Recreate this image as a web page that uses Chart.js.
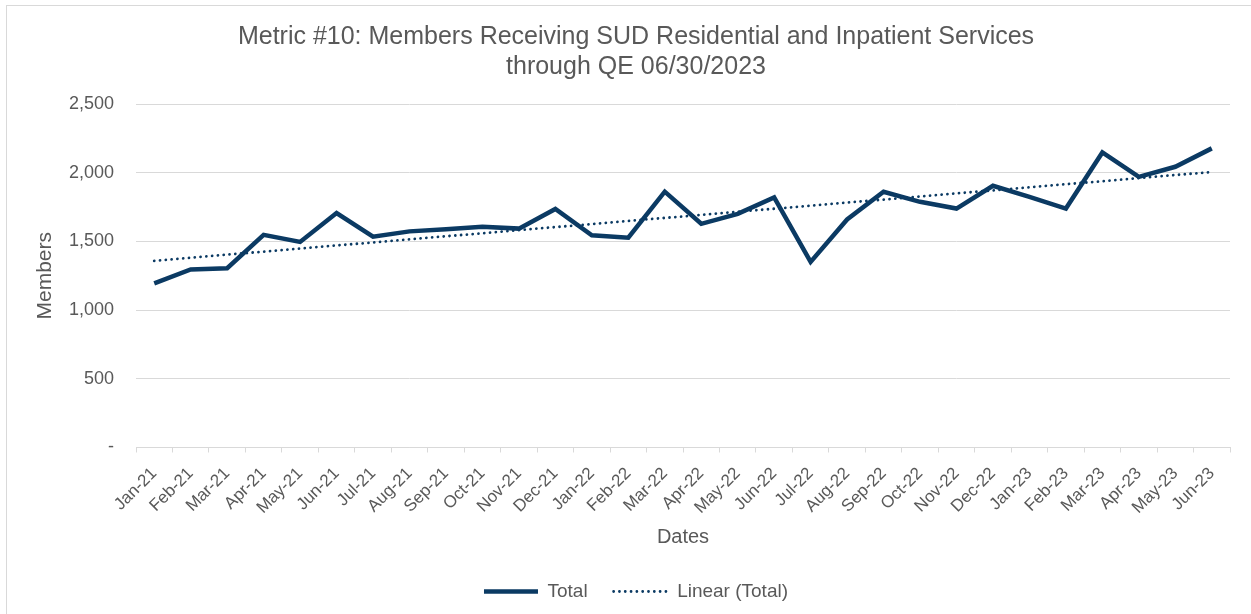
<!DOCTYPE html>
<html>
<head>
<meta charset="utf-8">
<script src="https://cdn.jsdelivr.net/npm/chart.js@4.4.0/dist/chart.umd.min.js"></script>
<style>
  html, body { margin: 0; padding: 0; background: #fff; overflow: hidden; }
  #frame { position: absolute; left: 6px; top: 5px; width: 1400px; height: 800px; border: 1px solid #d9d9d9; }
  #wrap { position: absolute; left: 0; top: 0; width: 1251px; height: 614px; }
</style>
</head>
<body>
<div id="frame"></div>
<div id="wrap"><canvas id="myChart" width="1251" height="614"></canvas></div>
<script>
// month labels along the x axis
var months = ['Jan-21', 'Feb-21', 'Mar-21', 'Apr-21', 'May-21', 'Jun-21', 'Jul-21', 'Aug-21', 'Sep-21', 'Oct-21',
    'Nov-21', 'Dec-21', 'Jan-22', 'Feb-22', 'Mar-22', 'Apr-22', 'May-22', 'Jun-22', 'Jul-22', 'Aug-22',
    'Sep-22', 'Oct-22', 'Nov-22', 'Dec-22', 'Jan-23', 'Feb-23', 'Mar-23', 'Apr-23', 'May-23', 'Jun-23'];

// members per month
var totalMembers = [1195, 1296, 1305, 1548, 1496, 1706, 1534, 1573, 1588, 1606,
    1593, 1736, 1544, 1527, 1862, 1628, 1700, 1820, 1351, 1660,
    1861, 1788, 1739, 1905, 1824, 1739, 2147, 1970, 2043, 2177];

var yTicks = [0, 500, 1000, 1500, 2000, 2500];

// least squares trend, like Excel's "Linear (Total)"
function linearTrend(vals) {
    var n = vals.length, sx = 0, sy = 0, sxy = 0, sxx = 0;
    for (var i = 0; i < n; i++) {
        sx += i; sy += vals[i]; sxy += i * vals[i]; sxx += i * i;
    }
    var slope = (n * sxy - sx * sy) / (n * sxx - sx * sx);
    var icpt = (sy - slope * sx) / n;
    return vals.map(function(v, i) { return icpt + slope * i; });
}
var trendMembers = linearTrend(totalMembers);

var textColor = '#595959';
var lineColor = '#0b3a63';
var font = '"Liberation Sans", Arial, sans-serif';

var ctx = document.getElementById('myChart').getContext('2d');

var chart = new Chart(ctx, {
    type: 'line',
    data: {
        labels: months,
        datasets: [{
            label: 'Total',
            data: totalMembers,
            borderColor: lineColor,
            backgroundColor: lineColor,
            borderWidth: 4.5,
            pointRadius: 0,
            tension: 0,
            borderJoinStyle: 'miter'
        }, {
            label: 'Linear (Total)',
            data: trendMembers,
            borderColor: lineColor,
            backgroundColor: lineColor,
            borderWidth: 2.8,
            borderDash: [0.01, 5.8],
            borderCapStyle: 'round',
            pointRadius: 0
        }]
    },
    options: {
        responsive: false,
        animation: false,
        // left padding keeps title and legend centred like the original
        layout: { padding: { left: 42, right: 21, top: 0, bottom: 3 } },
        plugins: {
            title: {
                display: true,
                text: ['Metric #10: Members Receiving SUD Residential and Inpatient Services', 'through QE 06/30/2023'],
                color: textColor,
                font: { family: font, size: 25, weight: 'normal', lineHeight: 1.2 },
                padding: { top: 22, bottom: 22 }
            },
            legend: {
                position: 'bottom',
                labels: {
                    color: textColor,
                    font: { family: font, size: 19 },
                    usePointStyle: true,
                    pointStyle: 'line',
                    pointStyleWidth: 54,
                    boxHeight: 4,
                    padding: 26,
                    generateLabels: function(c) {
                        // the default legend drops borderDash when usePointStyle is on
                        var items = Chart.defaults.plugins.legend.labels.generateLabels(c);
                        items.forEach(function(it) {
                            var ds = c.data.datasets[it.datasetIndex];
                            it.lineDash = ds.borderDash || [];
                            it.lineCap = ds.borderCapStyle || 'butt';
                            it.lineWidth = ds.borderWidth;
                        });
                        return items;
                    }
                }
            },
            tooltip: { enabled: false }
        },
        scales: {
            x: {
                offset: true,
                grid: {
                    offset: true,
                    drawOnChartArea: false,
                    drawTicks: true,
                    tickLength: 5,
                    color: '#d9d9d9'
                },
                border: { color: '#d9d9d9' },
                ticks: {
                    color: textColor,
                    font: { family: font, size: 17 },
                    minRotation: 45,
                    maxRotation: 45,
                    autoSkip: false,
                    padding: 11
                },
                title: {
                    display: true,
                    text: 'Dates',
                    color: textColor,
                    font: { family: font, size: 20, lineHeight: 1.2 },
                    padding: { top: -4, bottom: 7 }
                }
            },
            y: {
                min: 0,
                max: 2500,
                afterBuildTicks: function(axis) {
                    axis.ticks = yTicks.map(function(v) { return { value: v }; });
                },
                afterFit: function(axis) { axis.width = 94; },
                grid: { color: '#d9d9d9', drawTicks: false },
                border: { display: false },
                ticks: {
                    color: textColor,
                    font: { family: font, size: 18 },
                    padding: 22,
                    callback: function(v) { return v === 0 ? '-' : v.toLocaleString('en-US'); }
                },
                title: {
                    display: true,
                    text: 'Members',
                    color: textColor,
                    font: { family: font, size: 21, lineHeight: 1.2 },
                    padding: { top: -9, bottom: 0 }
                }
            }
        }
    }
});
</script>
</body>
</html>
